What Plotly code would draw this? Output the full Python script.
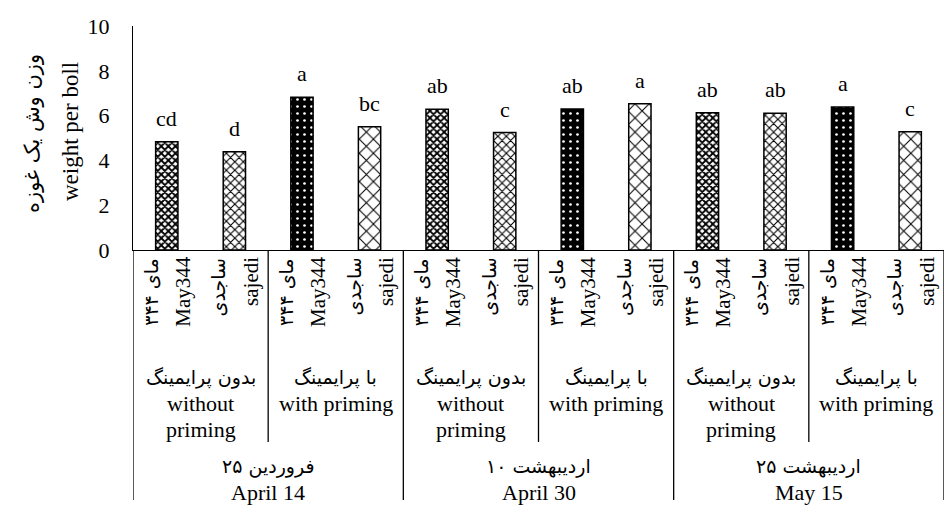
import plotly.graph_objects as go

# ---------------- data ----------------
dates_en = ["April 14", "April 30", "May 15"]
dates_fa = ["۲۵ فروردین", "۱۰ اردیبهشت", "۲۵ اردیبهشت"]
priming_en = [["without", "priming"], ["with priming"]]
priming_fa = ["بدون پرایمینگ", "با پرایمینگ"]
cultivar_en = ["May344", "sajedi"]
cultivar_fa = ["مای ۳۴۴", "ساجدی"]
weight = [4.83, 4.39, 6.82, 5.50, 6.28, 5.24, 6.29, 6.53, 6.13, 6.10, 6.38, 5.28]
letters = ["cd", "d", "a", "bc", "ab", "c", "ab", "a", "ab", "ab", "a", "c"]
y_title_en = "weight per boll"
y_title_fa = "وزن وش یک غوزه"

# ---------------- styles ----------------
SERIF = "Liberation Serif, Times New Roman, DejaVu Sans"
FA = "DejaVu Sans, Noto Sans"
# pattern for (priming index, cultivar index)
patterns = {
    (0, 0): dict(shape="x", fg="black", bg="white", size=5, sol=0.6),
    (0, 1): dict(shape="x", fg="black", bg="white", size=6, sol=0.33),
    (1, 0): dict(shape=".", fg="white", bg="black", size=7, sol=0.12),
    (1, 1): dict(shape="x", fg="black", bg="white", size=10, sol=0.2),
}

xs, shapes_p, fgs, bgs, sizes, sols = [], [], [], [], [], []
idx = 0
bar_meta = []
for d in range(len(dates_en)):
    for p in range(len(priming_fa)):
        for c in range(len(cultivar_en)):
            pt = patterns[(p, c)]
            xs.append(idx)
            shapes_p.append(pt["shape"]); fgs.append(pt["fg"]); bgs.append(pt["bg"])
            sizes.append(pt["size"]); sols.append(pt["sol"])
            bar_meta.append((d, p, c))
            idx += 1

fig = go.Figure(go.Bar(
    x=xs, y=weight, width=0.33,
    marker=dict(color="white", line=dict(color="black", width=1.5),
                pattern=dict(shape=shapes_p, fgcolor=fgs, bgcolor=bgs,
                             size=sizes, solidity=sols, fillmode="replace")),
    hoverinfo="skip",
))

PH = 224.0   # plot height in px
AX_Y = 250.0  # pixel row of the x axis

def py(pix):
    return (AX_Y - pix) / PH

ann = []
# significance letters
for x, v, t in zip(xs, weight, letters):
    ann.append(dict(x=x, y=v, xref="x", yref="y", text=t, showarrow=False,
                    yanchor="bottom", yshift=9, font=dict(family=SERIF, size=22, color="black")))

# rotated cultivar labels
for x, (d, p, c) in zip(xs, bar_meta):
    ann.append(dict(x=x, y=0, xref="x", yref="paper", text=cultivar_fa[c], showarrow=False,
                    textangle=-90, xanchor="center", yanchor="top", yshift=-6, xshift=-16,
                    font=dict(family=FA, size=19, color="black")))
    ann.append(dict(x=x, y=0, xref="x", yref="paper", text=cultivar_en[c], showarrow=False,
                    textangle=-90, xanchor="center", yanchor="top", yshift=-5, xshift=16,
                    font=dict(family=SERIF, size=21, color="black")))

# priming labels
ncult = len(cultivar_en)
npr = len(priming_fa)
for d in range(len(dates_en)):
    for p in range(npr):
        start = (d * npr + p) * ncult
        cx = start + (ncult - 1) / 2
        ann.append(dict(x=cx, y=py(377), xref="x", yref="paper", text=priming_fa[p], showarrow=False,
                        yanchor="middle", font=dict(family=FA, size=19, color="black")))
        for k, line in enumerate(priming_en[p]):
            ann.append(dict(x=cx, y=py(403 + 26 * k), xref="x", yref="paper", text=line,
                            showarrow=False, yanchor="middle",
                            font=dict(family=SERIF, size=22, color="black")))
    # date labels
    start = d * npr * ncult
    cx = start + (npr * ncult - 1) / 2
    ann.append(dict(x=cx, y=py(466), xref="x", yref="paper", text=dates_fa[d], showarrow=False,
                    yanchor="middle", font=dict(family=FA, size=19, color="black")))
    ann.append(dict(x=cx, y=py(492), xref="x", yref="paper", text=dates_en[d], showarrow=False,
                    yanchor="middle", font=dict(family=SERIF, size=22, color="black")))

# y-axis titles
ann.append(dict(x=(32 - 133) / 811, y=py(134), xref="paper", yref="paper", text=y_title_fa,
                showarrow=False, textangle=-90, xanchor="center", yanchor="middle",
                font=dict(family=FA, size=21, color="black")))
ann.append(dict(x=(70 - 133) / 811, y=py(132), xref="paper", yref="paper", text=y_title_en,
                showarrow=False, textangle=-90, xanchor="center", yanchor="middle",
                font=dict(family=SERIF, size=23, color="black")))

# separator lines
shp = []
n = len(xs)
for b in range(0, n + 1, ncult):
    pos = b - 0.5
    if b % (npr * ncult) == 0:
        y1 = py(500)
    else:
        y1 = py(442)
    shp.append(dict(type="line", xref="x", yref="paper", x0=pos, x1=pos, y0=0, y1=y1,
                    line=dict(color="black", width=1.3)))

fig.update_layout(
    width=944, height=505,
    margin=dict(l=133, r=0, t=26, b=255),
    plot_bgcolor="white", paper_bgcolor="white",
    showlegend=False,
    annotations=ann, shapes=shp,
    xaxis=dict(range=[-0.5, n - 0.5], showline=True, linecolor="black", linewidth=1.3,
               showticklabels=False, showgrid=False, zeroline=False, ticks=""),
    yaxis=dict(range=[0, 10], dtick=2, showline=True, linecolor="black", linewidth=1.3,
               showgrid=False, zeroline=False, ticks="", ticklabelstandoff=18,
               tickfont=dict(family=SERIF, size=22, color="black")),
)

fig.write_html("out.html", config={"displayModeBar": False},
               post_script="document.body.style.margin='0';document.body.style.overflow='hidden';")
